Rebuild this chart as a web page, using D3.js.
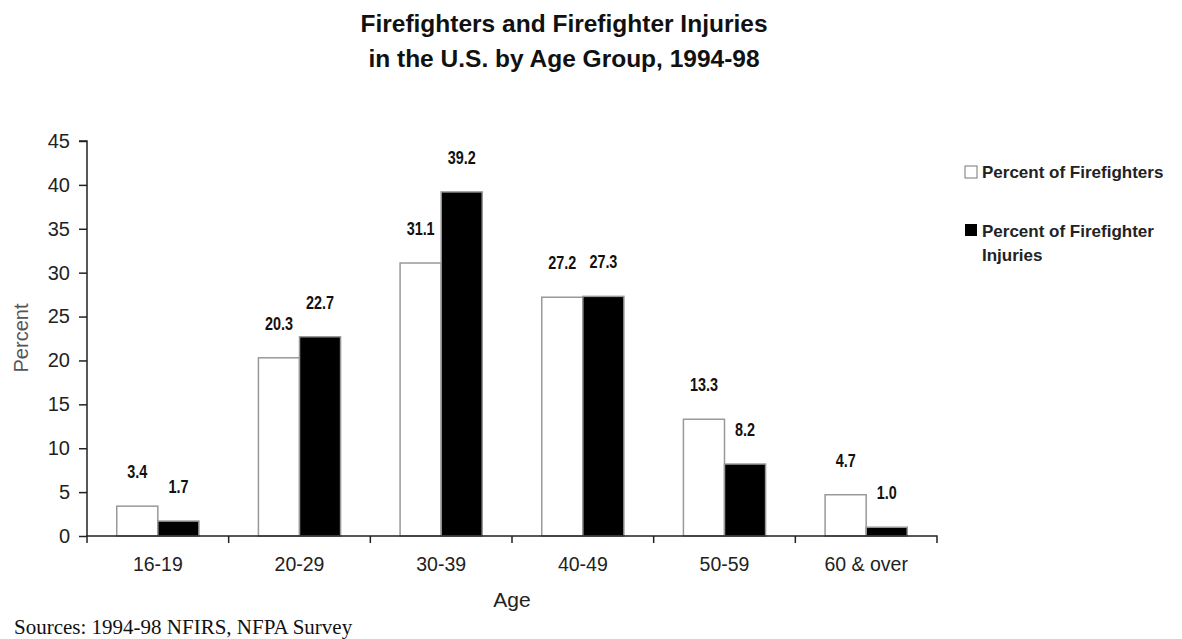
<!DOCTYPE html>
<html><head><meta charset="utf-8">
<script src="https://cdn.jsdelivr.net/npm/d3@7"></script>
<style>body{margin:0;background:#fff}svg{display:block}</style>
</head><body>
<svg id="c" width="1182" height="639"></svg>
<script>
const categories = ["16-19","20-29","30-39","40-49","50-59","60 & over"];
const seriesNames = ["Percent of Firefighters","Percent of Firefighter Injuries"];
const pctFirefighters = [3.4, 20.3, 31.1, 27.2, 13.3, 4.7];
const pctInjuries = [1.7, 22.7, 39.2, 27.3, 8.2, 1.0];
const yTicks = [0,5,10,15,20,25,30,35,40,45];

const svg = d3.select("#c");
const mLeft = 87, mRight = 937, mTop = 141, mBottom = 536;
const sans = "Liberation Sans, Arial, sans-serif";

const x0 = d3.scaleBand().domain(categories).range([mLeft, mRight]).paddingInner(0.42).paddingOuter(0.21);
const x1 = d3.scaleBand().domain([0,1]).range([0, x0.bandwidth()]);
const y = d3.scaleLinear().domain([0,45]).range([mBottom, mTop]);

// title
const title = svg.append("g").attr("font-family",sans).attr("font-weight","bold").attr("font-size",24.5).attr("fill","#111").attr("text-anchor","middle");
title.append("text").attr("x",564).attr("y",32).text("Firefighters and Firefighter Injuries");
title.append("text").attr("x",564).attr("y",67).text("in the U.S. by Age Group, 1994-98");

// bars
const series = [pctFirefighters, pctInjuries];
const fills = ["#fff","#000"];
const g = svg.append("g");
categories.forEach((c,i)=>{
  series.forEach((s,j)=>{
    g.append("rect")
      .attr("x", x0(c)+x1(j)).attr("y", y(s[i]))
      .attr("width", x1.bandwidth()).attr("height", y(0)-y(s[i]))
      .attr("fill", fills[j]).attr("stroke", "#999").attr("stroke-width", 1.5);
  });
});

// value labels (condensed look)
const lab = svg.append("g").attr("font-family",sans).attr("font-weight","bold").attr("font-size",18).attr("fill","#111").attr("text-anchor","middle");
categories.forEach((c,i)=>{
  series.forEach((s,j)=>{
    lab.append("text")
      .attr("transform", `translate(${x0(c)+x1(j)+x1.bandwidth()/2},${y(s[i]) - 28}) scale(0.8,1)`)
      .text(s[i].toFixed(1));
  });
});

// y axis
const yAxis = svg.append("g").attr("transform",`translate(${mLeft},0)`)
  .call(d3.axisLeft(y).tickValues(yTicks).tickSize(8).tickPadding(9).tickFormat(d3.format("d")));
yAxis.select(".domain").attr("stroke","#222").attr("stroke-width",1.5).attr("d",`M-8,${mTop}H0V${mBottom}`);
yAxis.selectAll(".tick line").attr("stroke","#222").attr("stroke-width",1.5);
yAxis.selectAll("text").attr("font-family",sans).attr("font-size",20).attr("fill","#222");

// x axis
const xAxis = svg.append("g").attr("transform",`translate(0,${mBottom})`)
  .call(d3.axisBottom(x0).tickSize(0).tickPadding(21));
xAxis.select(".domain").attr("stroke","#222").attr("stroke-width",1.5).attr("d",`M${mLeft},7V0H${mRight}V7`);
xAxis.selectAll("text").attr("font-family",sans).attr("font-size",19.5).attr("fill","#222");
const bounds = categories.slice(1).map(c => x0(c) - x0.step()*x0.paddingInner()/2);
xAxis.selectAll("line.bnd").data(bounds).enter().append("line")
  .attr("x1",d=>d).attr("x2",d=>d).attr("y1",0).attr("y2",7).attr("stroke","#222").attr("stroke-width",1.5);

// axis titles
svg.append("text").attr("x",(mLeft+mRight)/2).attr("y",607).attr("text-anchor","middle")
  .attr("font-family",sans).attr("font-size",21).attr("fill","#222").text("Age");
svg.append("text").attr("transform","translate(28,338) rotate(-90)").attr("text-anchor","middle")
  .attr("font-family",sans).attr("font-size",20).attr("fill","#555").text("Percent");

// source
svg.append("text").attr("x",14).attr("y",634).attr("font-family","Liberation Serif, Times New Roman, serif")
  .attr("font-size",21).attr("fill","#111").text("Sources: 1994-98 NFIRS, NFPA Survey");

// legend
const lg = svg.append("g").attr("font-family",sans).attr("font-weight","bold").attr("font-size",17).attr("fill","#222");
lg.append("rect").attr("x",965).attr("y",166).attr("width",12).attr("height",12).attr("fill","#fff").attr("stroke","#777");
lg.append("text").attr("x",982).attr("y",178).text(seriesNames[0]);
lg.append("rect").attr("x",965).attr("y",224).attr("width",12).attr("height",12).attr("fill","#000");
lg.append("text").attr("x",982).attr("y",237).text("Percent of Firefighter");
lg.append("text").attr("x",982).attr("y",261).text("Injuries");
</script>
</body></html>
